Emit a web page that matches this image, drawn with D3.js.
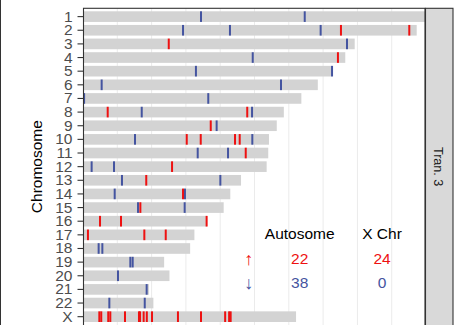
<!DOCTYPE html>
<html>
<head>
<meta charset="utf-8">
<script src="https://cdn.jsdelivr.net/npm/d3@7"></script>
<style>
  html, body { margin: 0; padding: 0; background: #fff; }
  svg { display: block; font-family: "Liberation Sans", Arial, sans-serif; }
</style>
</head>
<body>
<svg id="chart" width="470" height="325"></svg>
<script>
// ---- data ----
const chromosomes = ["1","2","3","4","5","6","7","8","9","10","11","12","13","14","15","16","17","18","19","20","21","22","X"];
const chromLengthMb = [249.25,243.20,198.02,191.15,180.92,171.12,159.14,146.36,141.21,135.53,135.01,133.85,115.17,107.35,102.53,90.35,81.20,78.08,59.13,63.03,48.13,51.30,155.27];
// gain (red, up) marks: [chromosome, position Mb]
const gainMarks = [
  ["2",188.0],["2",237.8],["3",62.5],["4",185.8],["8",18.0],["8",119.7],["9",93.1],
  ["10",75.6],["10",85.8],["10",110.8],["10",114.2],["11",118.6],["12",64.9],["13",46.1],
  ["14",72.9],["15",41.8],["16",12.4],["16",27.7],["16",90.1],["17",3.6],["17",44.7],["17",60.3],
  ["X",11.9],["X",13.3],["X",18.4],["X",19.9],["X",30.6],["X",40.8],["X",41.6],["X",44.2],
  ["X",46.5],["X",50.3],["X",69.2],["X",86.0],["X",103.6],["X",106.5],["X",107.6]
];
// loss (blue, down) marks: [chromosome, position Mb]
const lossMarks = [
  ["1",86.0],["1",161.6],["2",72.9],["2",107.1],["2",173.2],["3",192.4],["4",123.7],
  ["5",82.3],["5",181.5],["6",13.6],["6",144.3],["7",0.8],["7",91.3],["8",42.8],["8",123.2],
  ["9",97.4],["10",37.9],["10",123.4],["11",83.6],["11",105.7],["12",6.3],["12",22.6],
  ["13",28.4],["13",100.1],["14",23.1],["14",74.3],["15",40.1],["15",74.1],["18",11.4],["18",14.1],
  ["19",34.5],["19",36.2],["20",25.5],["21",46.4],["22",19.2],["22",45.0]
];
const legendCols = ["Autosome","X Chr"];
const legendArrows = ["↑","↓"];
const legendCounts = [[22,24],[38,0]];
const gridMb = [25,50,75,100,125,150,175,200,225];
const panelTitle = "Tran. 3";

// ---- layout ----
const svg = d3.select("#chart");
const P = {l:83, r:425, t:8.3, b:325};
const RED = "#ee1111", BLUE = "#4454a0";

const x = d3.scaleLinear().domain([0, 249.25]).range([P.l, P.r]);
const y = d3.scaleBand().domain(chromosomes).range([P.t, P.b]).paddingInner(0.22).paddingOuter(0.22);

// left frame line
svg.append("line").attr("x1",0.5).attr("x2",0.5).attr("y1",0).attr("y2",325).attr("stroke","#333").attr("stroke-width",1);

// panel background
svg.append("rect").attr("x",P.l).attr("y",P.t).attr("width",P.r-P.l).attr("height",P.b-P.t).attr("fill","#fff");

// grid
svg.append("g").selectAll("line").data(gridMb).join("line")
  .attr("x1",d=>x(d)).attr("x2",d=>x(d)).attr("y1",P.t).attr("y2",P.b)
  .attr("stroke","#ebebeb").attr("stroke-width",1);

// chromosome bars
const lenData = chromosomes.map((c,i)=>({c, len: chromLengthMb[i]}));
svg.append("g").selectAll("rect").data(lenData).join("rect")
  .attr("x",x(0)).attr("y",d=>y(d.c)).attr("width",d=>x(d.len)-x(0)).attr("height",y.bandwidth())
  .attr("fill","#d3d3d3");

// marks
function drawMarks(data, color){
  svg.append("g").selectAll("rect").data(data).join("rect")
    .attr("x",d=>x(d[1])-1).attr("y",d=>y(d[0])).attr("width",2).attr("height",y.bandwidth())
    .attr("fill",color);
}
drawMarks(lossMarks, BLUE);
drawMarks(gainMarks, RED);

// panel border
svg.append("rect").attr("x",P.l+0.5).attr("y",P.t).attr("width",P.r-P.l-0.5).attr("height",P.b-P.t+1)
  .attr("fill","none").attr("stroke","#333").attr("stroke-width",1.1);

// strip
svg.append("rect").attr("x",P.r+0.5).attr("y",P.t).attr("width",27.5).attr("height",P.b-P.t+1)
  .attr("fill","#d9d9d9").attr("stroke","#333").attr("stroke-width",1.1);
svg.append("text").attr("transform",`translate(434,${(P.t+P.b)/2}) rotate(90)`)
  .attr("text-anchor","middle").attr("font-size",12.6).attr("fill","#1a1a1a").text(panelTitle);

// y axis
const yAxis = d3.axisLeft(y).tickSize(5.5).tickPadding(5);
const ga = svg.append("g").attr("transform",`translate(${P.l},0)`).call(yAxis);
ga.select(".domain").remove();
ga.selectAll(".tick line").attr("stroke","#333").attr("stroke-width",1.1);
ga.selectAll(".tick text").attr("fill","#4d4d4d").attr("font-size",15.5)
  .attr("font-family","'Liberation Sans', Arial, sans-serif");

// y title
svg.append("text").attr("transform",`translate(41.5,${(P.t+P.b)/2}) rotate(-90)`)
  .attr("text-anchor","middle").attr("font-size",15.5).attr("fill","#000").text("Chromosome");

// legend table
const colX = [299.7, 382];
const rowY = [264.3, 288.3];
svg.append("g").selectAll("text").data(legendCols).join("text")
  .attr("x",(d,i)=>colX[i]).attr("y",239.3).attr("text-anchor","middle")
  .attr("font-size",15.5).attr("fill","#000").text(d=>d);
legendArrows.forEach((a,r)=>{
  const col = r===0 ? RED : BLUE;
  svg.append("text").attr("x",248.7).attr("y",rowY[r]+1).attr("text-anchor","middle")
    .attr("font-size",18).attr("fill",col).text(a);
  legendCounts[r].forEach((v,c)=>{
    svg.append("text").attr("x",colX[c]).attr("y",rowY[r]).attr("text-anchor","middle")
      .attr("font-size",15.5).attr("fill",col).text(v);
  });
});
</script>
</body>
</html>
